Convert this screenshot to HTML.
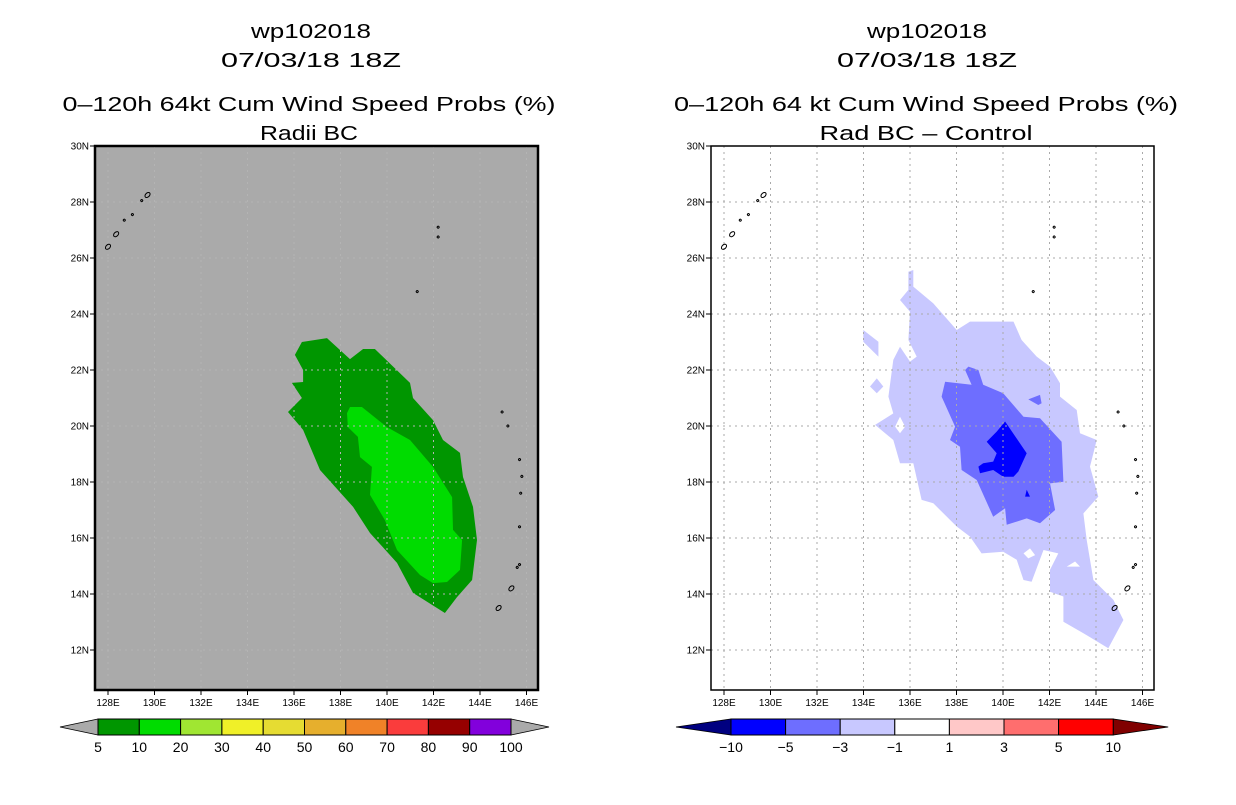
<!DOCTYPE html>
<html><head><meta charset="utf-8"><style>
body{margin:0;background:#fff;font-family:"Liberation Sans",sans-serif}
svg text{font-family:"Liberation Sans",sans-serif}
</style></head><body>
<svg id="s" width="1236" height="800" xmlns="http://www.w3.org/2000/svg">
<g font-size="20" text-anchor="middle" fill="#000" lengthAdjust="spacingAndGlyphs">
<text x="311" y="38" textLength="120" lengthAdjust="spacingAndGlyphs">wp102018</text>
<text x="311" y="67" textLength="180" lengthAdjust="spacingAndGlyphs">07/03/18 18Z</text>
<text x="309" y="111" textLength="493" lengthAdjust="spacingAndGlyphs">0–120h 64kt Cum Wind Speed Probs (%)</text>
<text x="309" y="140" textLength="98" lengthAdjust="spacingAndGlyphs">Radii BC</text>
</g>
<g font-size="20" text-anchor="middle" fill="#000">
<text x="927" y="38" textLength="120" lengthAdjust="spacingAndGlyphs">wp102018</text>
<text x="927" y="67" textLength="180" lengthAdjust="spacingAndGlyphs">07/03/18 18Z</text>
<text x="926" y="111" textLength="504" lengthAdjust="spacingAndGlyphs">0–120h 64 kt Cum Wind Speed Probs (%)</text>
<text x="926" y="140" textLength="213" lengthAdjust="spacingAndGlyphs">Rad BC – Control</text>
</g>
</svg>
<script>
const lonTicks=[128,130,132,134,136,138,140,142,144,146];
const latTicks=[12,14,16,18,20,22,24,26,28,30];
const probLevels=[5,10,20,30,40,50,60,70,80,90,100];
const probColors=["#009600","#00dc00","#a0e632","#f0f028","#e6dc32","#e6af2d","#f08228","#fa3c3c","#960000","#8200dc"];
const diffLevels=[-10,-5,-3,-1,1,3,5,10];
const diffColors=["#000080","#0000ff","#6e6eff","#c8c8ff","#ffffff","#ffc8c8","#ff6e6e","#ff0000","#800000"];
// left: 5-10% contour
const p5Lon=[136.34,137.42,138.41,138.97,139.48,140.99,141.12,141.98,142.41,143.14,143.27,143.70,143.87,143.66,143.01,142.49,141.12,140.43,139.27,138.54,137.12,136.39,135.74,136.34,135.91,136.39,136.39,136.04];
const p5Lat=[23.0,23.14,22.39,22.75,22.75,21.54,21.0,20.21,19.5,19.04,18.18,17.11,15.93,14.5,13.89,13.32,14.04,15.11,16.18,17.11,18.43,19.86,20.5,21.0,21.54,21.57,22.0,22.54];
const p10Lon=[138.41,138.92,140.0,140.99,141.98,142.8,142.84,143.23,143.14,142.58,141.98,141.42,140.43,139.91,139.27,139.35,138.84,138.75,138.32,138.28];
const p10Lat=[20.68,20.68,19.96,19.5,18.54,17.46,16.29,15.93,14.86,14.43,14.39,14.68,15.57,16.64,17.54,18.54,18.89,19.61,19.96,20.46];
// right: differences
const d1Lon=[135.93,136.14,136.14,137.0,138.01,138.58,140.45,140.8,141.45,142.02,142.45,142.45,143.17,143.31,144.03,143.74,144.1,143.46,143.6,143.89,144.75,145.18,144.53,143.46,142.6,142.6,142.02,142.02,142.38,141.74,141.23,140.88,140.59,140.01,139.08,138.58,138.01,137.0,136.5,136.14,135.57,135.28,134.5,135.28,135.07,135.28,135.57,136.0,136.29,135.93,136.0,135.57,135.93];
const d1Lat=[25.51,25.57,24.98,24.38,23.43,23.73,23.73,23.07,22.48,22.12,21.53,21.05,20.57,19.74,19.5,18.55,17.48,16.88,15.93,14.5,13.79,13.07,12.06,12.6,13.01,13.91,14.08,14.86,15.45,15.57,14.44,14.5,15.22,15.51,15.45,16.05,16.41,17.24,17.36,18.67,18.67,19.5,20.04,20.45,21.05,22.36,22.83,22.3,22.48,23.07,24.08,24.5,24.86];
const d1bLon=[133.99,134.64,134.64,133.99], d1bLat=[23.43,23.01,22.48,23.01];
const d1cLon=[134.28,134.57,134.85,134.57], d1cLat=[21.41,21.7,21.41,21.17];
const h1Lon=[135.36,135.57,135.79,135.57], h1Lat=[19.98,20.33,19.98,19.74];
const h2Lon=[140.88,141.16,141.38,141.09], h2Lat=[15.45,15.63,15.39,15.27];
const h3Lon=[142.74,143.1,143.31], h3Lat=[14.98,15.16,14.98];
const d3Lon=[137.51,138.65,138.37,138.51,138.94,139.15,140.01,140.88,141.59,142.52,142.6,142.02,142.24,141.59,141.02,140.16,140.09,139.58,138.87,138.22,138.15,137.72,137.94,137.36];
const d3Lat=[21.58,21.47,22.0,22.12,22.0,21.47,21.17,20.33,20.28,19.44,18.01,17.95,17.0,16.53,16.7,16.47,17.06,16.76,18.07,18.43,19.26,19.5,19.98,21.05];
const d3bLon=[141.09,141.59,141.66,141.52], d3bLat=[20.95,21.11,20.81,20.75];
const d5Lon=[140.09,141.02,140.66,140.45,140.01,139.58,139.01,138.94,139.15,139.58,139.73,139.3,139.73];
const d5Lat=[20.16,19.03,18.37,18.19,18.19,18.43,18.31,18.55,18.67,18.73,19.03,19.44,19.8];
const d5bLon=[141.02,141.16,140.95], d5bLat=[17.72,17.48,17.48];
// islands (lon, lat)
const isleLon=[129.7,129.45,129.05,128.7,128.35,128.0,142.2,142.2,141.3,144.95,145.2,145.7,145.8,145.75,145.7,145.7,145.6,145.35,144.8];
const isleLat=[28.25,28.05,27.55,27.35,26.85,26.4,27.1,26.75,24.8,20.5,20.0,18.8,18.2,17.6,16.4,15.05,14.95,14.2,13.5];

const NS="http://www.w3.org/2000/svg";
const svg=document.getElementById('s');
const FX0=95,FX1=538,FY0=146,FY1=690;
function xs(lon,off){return off+108+(lon-128)*23.25;}
function ys(lat){return 146+(30-lat)*28;}
function mk(tag,attrs,parent){const e=document.createElementNS(NS,tag);for(const k in attrs)e.setAttribute(k,attrs[k]);(parent||svg).appendChild(e);return e;}
function poly(lons,lats,off,fill,g){const pts=lons.map((l,i)=>xs(l,off).toFixed(1)+","+ys(lats[i]).toFixed(1)).join(" ");return mk('polygon',{points:pts,fill:fill},g);}

function panel(off,bg,name){
  const g=mk('g',{});
  
  
  const cp=mk('clipPath',{id:'c'+off},g);
  mk('rect',{x:FX0+off,y:FY0,width:FX1-FX0,height:FY1-FY0},cp);
  const bgr=mk('rect',{x:FX0+off,y:FY0,width:FX1-FX0,height:FY1-FY0,fill:bg},g);
  
  
  const fills=mk('g',{'clip-path':'url(#c'+off+')'},g);
  return {g,fills};
}
function grid(p,off,col){
  const gg=mk('g',{stroke:col,'stroke-width':1,'stroke-dasharray':'2,4'},p.g);
  
  
  lonTicks.forEach(l=>{const x=xs(l,off);mk('line',{x1:x,x2:x,y1:FY0,y2:FY1},gg);});
  latTicks.forEach(l=>{const y=ys(l);mk('line',{x1:FX0+off,x2:FX1+off,y1:y,y2:y},gg);});
}
function islands(p,off){
  const gi=mk('g',{stroke:'#000','stroke-width':1,fill:'none'},p.g);
  
  
  isleLon.forEach((l,i)=>{
    const x=xs(l,off),y=ys(isleLat[i]);
    const big=(i===0||i===4||i===5||i===17||i===18);
    const e=mk('ellipse',{cx:x,cy:y,rx:big?3:1,ry:big?2:1,transform:'rotate(-45 '+x+' '+y+')'},gi);
    
    
  });
}
function axes(p,off,sw){
  const ga=mk('g',{},p.g);
  
  
  const fr=mk('rect',{x:FX0+off,y:FY0,width:FX1-FX0,height:FY1-FY0,fill:'none',stroke:'#000','stroke-width':sw},ga);
  
  
  lonTicks.forEach(l=>{const x=xs(l,off);mk('line',{x1:x,x2:x,y1:FY1,y2:FY1+5,stroke:'#000'},ga);
    const t=mk('text',{x:x,y:FY1+16,'font-size':10,'text-anchor':'middle'},ga);t.textContent=l+'E';
    });
  latTicks.forEach(l=>{const y=ys(l);mk('line',{x1:FX0+off-5,x2:FX0+off,y1:y,y2:y,stroke:'#000'},ga);
    const t=mk('text',{x:FX0+off-6,y:y+3.5,'font-size':10,'text-anchor':'end'},ga);t.textContent=l+'N';
    });
}
// left
const L=panel(0,'#aaaaaa','left-map');
poly(p5Lon,p5Lat,0,probColors[0],L.fills);
poly(p10Lon,p10Lat,0,probColors[1],L.fills);
grid(L,0,'#b4b4b4');islands(L,0);axes(L,0,2.5);
// right
const R=panel(616,'#ffffff','right-map');
const rg=R.fills;
poly(d1Lon,d1Lat,616,diffColors[3],rg);
poly(d1bLon,d1bLat,616,diffColors[3],rg);
poly(d1cLon,d1cLat,616,diffColors[3],rg);
poly(h1Lon,h1Lat,616,'#fff',rg);poly(h2Lon,h2Lat,616,'#fff',rg);poly(h3Lon,h3Lat,616,'#fff',rg);
poly(d3Lon,d3Lat,616,diffColors[2],rg);
poly(d3bLon,d3bLat,616,diffColors[2],rg);
poly(d5Lon,d5Lat,616,diffColors[1],rg);
poly(d5bLon,d5bLat,616,diffColors[1],rg);
grid(R,616,'#aaaaaa');islands(R,616);axes(R,616,1.5);

// colorbars
function cbar(x0,w,levels,cols,leftTipCol,rightTipCol,tipW,name){
  const g=mk('g',{});
  
  
  const y0=719,y1=735,ym=727;
  const n=levels.length-1;
  const lt=mk('polygon',{points:(x0-tipW)+','+ym+' '+x0+','+y0+' '+x0+','+y1,fill:leftTipCol,stroke:'#000','stroke-width':0.8},g);
  
  const xe=x0+w*n;
  const rt=mk('polygon',{points:(xe+tipW)+','+ym+' '+xe+','+y0+' '+xe+','+y1,fill:rightTipCol,stroke:'#000','stroke-width':0.8},g);
  
  for(let i=0;i<n;i++){
    const r=mk('rect',{x:x0+i*w,y:y0,width:w,height:y1-y0,fill:cols[i],stroke:'#000','stroke-width':1},g);
    
  }
  levels.forEach((v,i)=>{const t=mk('text',{x:x0+i*w,y:752,'font-size':14,'text-anchor':'middle'},g);
    t.textContent=v<0?'−'+(-v):v;});
}
cbar(98,41.3,probLevels,probColors,'#aaaaaa','#aaaaaa',38,'left-colorbar');
cbar(731,54.6,diffLevels,diffColors.slice(1,8),diffColors[0],diffColors[8],55,'right-colorbar');
</script>
</body></html>
